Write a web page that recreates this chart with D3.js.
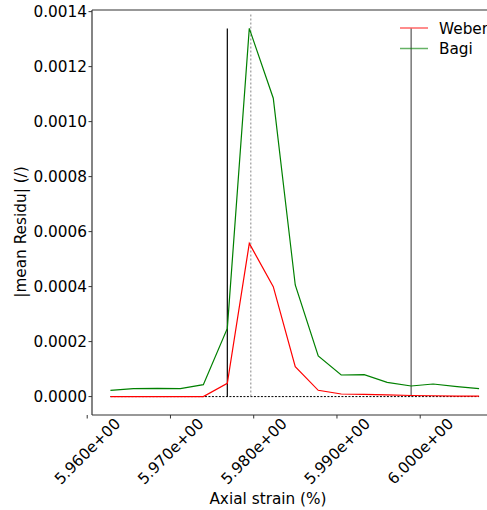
<!DOCTYPE html>
<html><head><meta charset="utf-8">
<script src="https://cdn.jsdelivr.net/npm/d3@7"></script>
<style>body{margin:0;background:#fff}svg{display:block}text{font-family:"DejaVu Sans",sans-serif;fill:#000}</style>
</head><body><svg id="c" width="487" height="510"></svg>
<script>
const strain = [5.96279,5.96555,5.96843,5.97119,5.97395,5.97683,5.97947,5.98235,5.98499,5.98775,5.99051,5.99327,5.99603,5.99891,6.00155,6.00443,6.00707];
const weber = [0,0,0,0,0,0.0000484,0.000557,0.000400,0.000109,0.0000229,0.0000095,0.000008,0.000006,0.000004,0.000003,0.000002,0.000002];
const bagi = [0.0000229,0.0000287,0.0000301,0.0000287,0.0000433,0.000248,0.001339,0.001085,0.000406,0.000148,0.0000785,0.0000797,0.000052,0.0000385,0.0000458,0.000036,0.0000287];
const xTicks = [5.960,5.970,5.980,5.990,6.000];
const yTicks = [0,0.0002,0.0004,0.0006,0.0008,0.0010,0.0012,0.0014];
const seriesNames = ["Weber","Bagi"];
const seriesColors = ["#ff0000","#008000"];
const vLines = [{x:5.97683,top:0.001339,color:"#000",dash:null},{x:5.97965,top:0.00139,color:"#999",dash:"2,2"},{x:5.99891,top:0.001339,color:"#555",dash:null}];

const svg = d3.select("#c");
const L=92, R=497.5, T=10, B=415;
const x = d3.scaleLinear().domain([5.96279-(6.00707-5.96279)*0.05, 6.00707+(6.00707-5.96279)*0.05]).range([L,R]);
const ymax=0.001339;
const y = d3.scaleLinear().domain([-ymax*0.05, ymax*1.05]).range([B,T]);

// zero dotted line
svg.append("line").attr("x1",x(strain[0])).attr("x2",x(strain[strain.length-1]))
  .attr("y1",y(0)).attr("y2",y(0)).attr("stroke","#000").attr("stroke-width",1).attr("stroke-dasharray","2,1.5");

vLines.forEach(v=>{
  svg.append("line").attr("x1",x(v.x)).attr("x2",x(v.x)).attr("y1",y(0)).attr("y2",y(v.top))
    .attr("stroke",v.color).attr("stroke-width",1.2).attr("stroke-dasharray",v.dash);
});

const line = d3.line().x((d,i)=>x(strain[i])).y(d=>y(d));
[weber,bagi].forEach((s,k)=>{
  svg.append("path").datum(s).attr("d",line).attr("fill","none").attr("stroke",seriesColors[k]).attr("stroke-width",1.2);
});

// spines
const sp="#333";
svg.append("line").attr("x1",L).attr("x2",L).attr("y1",T).attr("y2",B).attr("stroke",sp).attr("stroke-width",1.2);
svg.append("line").attr("x1",L).attr("x2",R).attr("y1",B).attr("y2",B).attr("stroke",sp).attr("stroke-width",1.2);
svg.append("line").attr("x1",L).attr("x2",R).attr("y1",T).attr("y2",T).attr("stroke",sp).attr("stroke-width",1.2);
svg.append("line").attr("x1",R).attr("x2",R).attr("y1",T).attr("y2",B).attr("stroke",sp).attr("stroke-width",1.2);

// y axis
const fs=15.3;
yTicks.forEach(t=>{
  svg.append("line").attr("x1",L-3.5).attr("x2",L).attr("y1",y(t)).attr("y2",y(t)).attr("stroke",sp);
  svg.append("text").attr("x",L-5).attr("y",y(t)).attr("dy","0.36em").attr("text-anchor","end")
    .style("font-size",fs+"px").text(d3.format(".4f")(t));
});
// x axis
xTicks.forEach(t=>{
  const px=x(t);
  svg.append("line").attr("x1",px).attr("x2",px).attr("y1",B).attr("y2",B+3.5).attr("stroke",sp);
  const lbl=t.toFixed(3)+"e+00";
  const g=svg.append("g").attr("transform",`translate(${px},${B+36}) rotate(-45)`);
  g.append("text").attr("x",0).attr("y",0).attr("dy","0.36em").attr("text-anchor","middle").style("font-size",fs+"px").text(lbl);
});
svg.append("text").attr("x",268).attr("y",504).attr("text-anchor","middle").style("font-size",fs+"px").text("Axial strain (%)");
svg.append("text").attr("transform","translate(26,232) rotate(-90)").attr("text-anchor","middle").style("font-size",fs+"px").text("|mean Residu| (/)");

// legend
seriesNames.forEach((n,i)=>{
  const ly=28+i*20.5;
  svg.append("line").attr("x1",400).attr("x2",428).attr("y1",ly).attr("y2",ly).attr("stroke",seriesColors[i]).attr("stroke-width",1.5).attr("opacity",0.6);
  svg.append("text").attr("x",439).attr("y",ly).attr("dy","0.36em").style("font-size",fs+"px").text(n);
});
</script></body></html>
